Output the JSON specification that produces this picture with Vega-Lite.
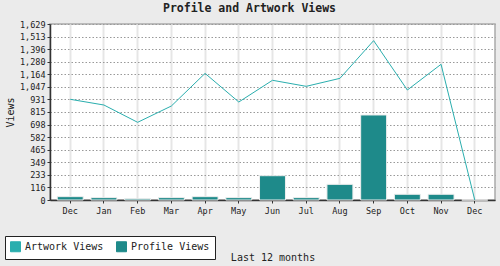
{
  "$schema": "https://vega.github.io/schema/vega-lite/v6.json",
  "width": 445,
  "height": 176,
  "autosize": {"type": "none"},
  "padding": {"left": 50, "top": 24, "right": 5, "bottom": 66},
  "background": "#ebebeb",
  "title": {
    "text": "Profile and Artwork Views",
    "font": "DejaVu Sans Mono",
    "fontSize": 11.5,
    "fontWeight": "bold",
    "color": "#222",
    "anchor": "middle",
    "dx": -23,
    "offset": 6
  },
  "config": {
    "font": "DejaVu Sans Mono",
    "view": {"fill": "white", "stroke": "#aaaaaa", "strokeWidth": 1.5},
    "axis": {
      "labelFont": "DejaVu Sans Mono",
      "titleFont": "DejaVu Sans Mono",
      "labelColor": "#222",
      "titleColor": "#222",
      "domainColor": "#333",
      "tickColor": "#333",
      "labelFontSize": 8.5,
      "titleFontSize": 10,
      "titleFontWeight": "normal",
      "labelOverlap": false
    }
  },
  "data": {
    "values": [
      {"i": 0, "month": "Dec", "artwork": 932, "profile": 31},
      {"i": 1, "month": "Jan", "artwork": 879, "profile": 22},
      {"i": 2, "month": "Feb", "artwork": 719, "profile": 12},
      {"i": 3, "month": "Mar", "artwork": 870, "profile": 22},
      {"i": 4, "month": "Apr", "artwork": 1172, "profile": 31},
      {"i": 5, "month": "May", "artwork": 907, "profile": 22},
      {"i": 6, "month": "Jun", "artwork": 1108, "profile": 225},
      {"i": 7, "month": "Jul", "artwork": 1052, "profile": 22},
      {"i": 8, "month": "Aug", "artwork": 1126, "profile": 145},
      {"i": 9, "month": "Sep", "artwork": 1475, "profile": 787},
      {"i": 10, "month": "Oct", "artwork": 1018, "profile": 53},
      {"i": 11, "month": "Nov", "artwork": 1256, "profile": 53},
      {"i": 12, "month": "Dec", "artwork": 0, "profile": 0}
    ]
  },
  "encoding": {
    "x": {
      "field": "i",
      "type": "ordinal",
      "scale": {"paddingInner": 0.23, "paddingOuter": 0.215},
      "axis": {
        "title": "Last 12 months",
        "labelExpr": "['Dec','Jan','Feb','Mar','Apr','May','Jun','Jul','Aug','Sep','Oct','Nov','Dec'][datum.value]",
        "labelAngle": 0,
        "tickSize": 3,
        "labelPadding": 3,
        "titlePadding": 38,
        "grid": true,
        "gridColor": "#e6e6e6",
        "gridWidth": 2,
        "domainWidth": 1.5
      }
    }
  },
  "layer": [
    {
      "mark": {"type": "bar", "stroke": "#eeeeee", "strokeWidth": 1},
      "encoding": {
        "y": {
          "field": "profile",
          "type": "quantitative",
          "scale": {"domain": [0, 1629], "nice": false},
          "axis": {
            "title": "Views",
            "values": [0, 116, 233, 349, 465, 582, 698, 815, 931, 1047, 1164, 1280, 1396, 1513, 1629],
            "tickCount": 30,
            "format": ",d",
            "tickSize": 3,
            "labelPadding": 2,
            "titlePadding": 4,
            "grid": true,
            "gridColor": "#999999",
            "gridDash": [1.5, 2],
            "gridWidth": 1,
            "domainWidth": 1.5
          }
        },
        "color": {
          "datum": "Profile Views",
          "type": "nominal",
          "scale": {"domain": ["Artwork Views", "Profile Views"], "range": ["#2aaeae", "#1e8a8a"]},
          "legend": {
            "title": null,
            "orient": "none",
            "direction": "horizontal",
            "legendX": -45,
            "legendY": 212,
            "strokeColor": "#222",
            "fillColor": "white",
            "padding": 5,
            "symbolType": "square",
            "symbolSize": 100,
            "symbolStrokeColor": "#222",
            "symbolStrokeWidth": 1,
            "labelFont": "DejaVu Sans Mono",
            "labelFontSize": 10,
            "labelColor": "#222",
            "labelOffset": 4,
            "columnPadding": 10,
            "encode": {
              "symbols": {
                "update": {
                  "fill": {"scale": "color", "field": "value"},
                  "stroke": {"value": "#222"},
                  "strokeWidth": {"value": 1},
                  "opacity": {"value": 1},
                  "fillOpacity": {"value": 1}
                }
              }
            }
          }
        }
      }
    },
    {
      "mark": {"type": "line", "strokeWidth": 1},
      "encoding": {
        "y": {"field": "artwork", "type": "quantitative"},
        "color": {"datum": "Artwork Views", "type": "nominal"}
      }
    }
  ]
}
